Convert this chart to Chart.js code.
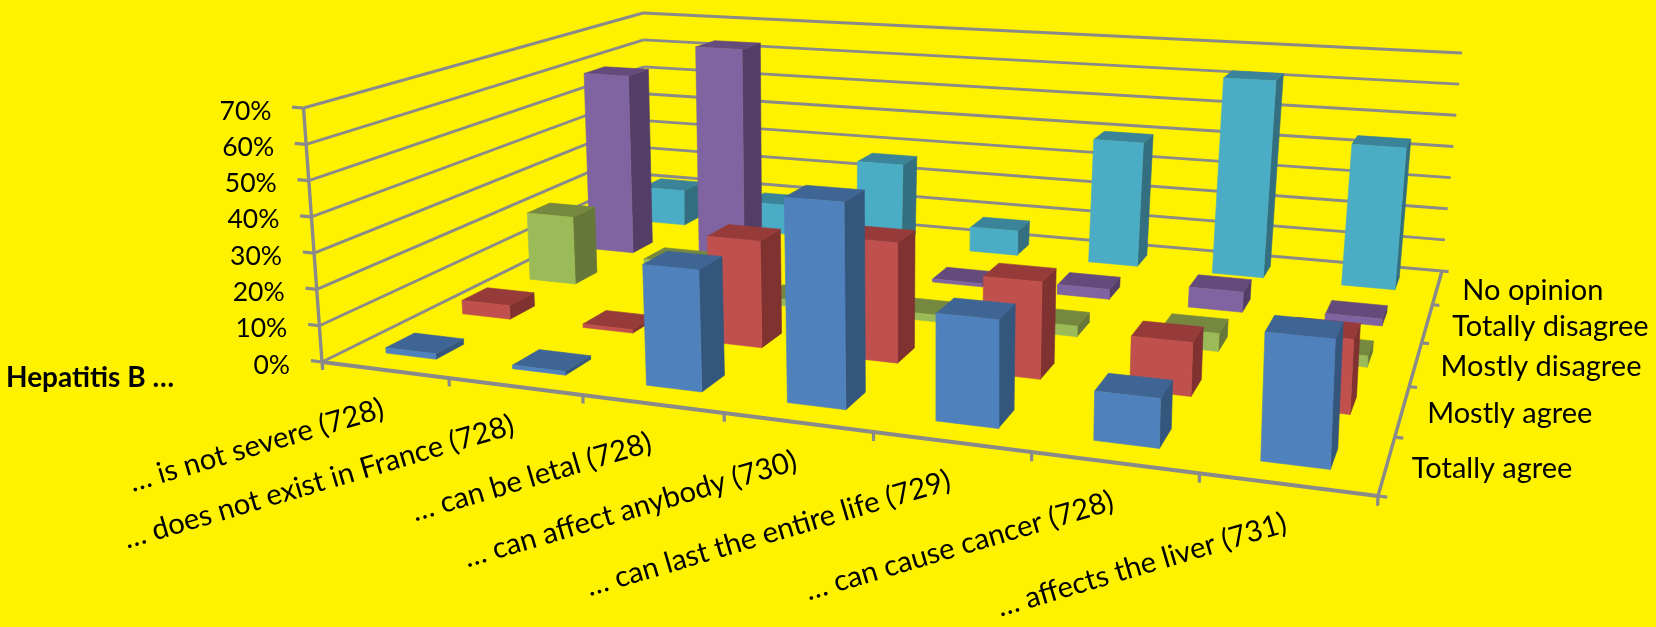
<!DOCTYPE html>
<html>
<head>
<meta charset="utf-8">
<title>Hepatitis B</title>
<script src="https://cdn.jsdelivr.net/npm/chart.js@4/dist/chart.umd.min.js"></script>
<style>
    html, body { margin: 0; padding: 0; background: #FFF200; overflow: hidden; }
    canvas { display: block; }
</style>
</head>
<body>
<canvas id="myChart" width="1656" height="627"></canvas>
<script>
const categories = [
    "… is not severe (728)",
    "… does not exist in France (728)",
    "… can be letal (728)",
    "… can affect anybody (730)",
    "… can last the entire life (729)",
    "… can cause cancer (728)",
    "… affects the liver (731)",
];
const seriesNames = ["Totally agree", "Mostly agree", "Mostly disagree", "Totally disagree", "No opinion"];
const valueTicks = [0, 10, 20, 30, 40, 50, 60, 70];

const totallyAgree = [1.5, 1, 32, 53, 27, 12, 30.5];
const mostlyAgree = [4, 1, 30, 33, 26, 14, 19];
const mostlyDisagree = [21, 10, 2, 2, 3, 5, 3];
const totallyDisagree = [59, 70, 5, 1, 3, 6, 2];
const noOpinion = [12, 10, 27, 8, 40, 62.5, 44];
const seriesValues = [totallyAgree, mostlyAgree, mostlyDisagree, totallyDisagree, noOpinion];

// front, side and top shade of each series
const shades = [
    ["#4F81BD", "#34557C", "#3E6593"],
    ["#C0504D", "#7F3230", "#963B39"],
    ["#9BBB59", "#67773A", "#76883F"],
    ["#8064A2", "#533E67", "#644B7C"],
    ["#4BACC6", "#336F80", "#3A8399"],
];
const background = "#FFF200";
const gridColor = "#8A8A8A";
const textFont = "Lato";

const maxValue = 70;
const boxDepth = seriesNames.length;
const boxWidth = categories.length;

// canvas corners of the box: front left, front right, back right, back left
const floorCorners = [[322, 362], [1378, 496], [1442, 271], [647, 201.4]];
const roofCorners = [[303.5, 108], [1390.6, 185.5], [1462, 53], [643, 13]];

// unit square to quad perspective map
function quadMap([[x0, y0], [x1, y1], [x2, y2], [x3, y3]]) {
    const dx1 = x1 - x2, dx2 = x3 - x2, sx = x0 - x1 + x2 - x3;
    const dy1 = y1 - y2, dy2 = y3 - y2, sy = y0 - y1 + y2 - y3;
    const den = dx1 * dy2 - dx2 * dy1;
    const g = (sx * dy2 - dx2 * sy) / den;
    const h = (dx1 * sy - sx * dy1) / den;
    const a = x1 - x0 + g * x1, b = x3 - x0 + h * x3;
    const d = y1 - y0 + g * y1, e = y3 - y0 + h * y3;
    return (u, v) => {
        const w = g * u + h * v + 1;
        return [(a * u + b * v + x0) / w, (d * u + e * v + y0) / w];
    };
}

const floorMap = quadMap(floorCorners);
const roofMap = quadMap(roofCorners);

function project(x, y, z) {
    const u = x / boxWidth;
    const v = y / boxDepth;
    const t = z / maxValue;
    const f = floorMap(u, v);
    const r = roofMap(u, v);
    return { x: f[0] + (r[0] - f[0]) * t, y: f[1] + (r[1] - f[1]) * t };
}

const datasets = [];

function addLine(from, to, width) {
    datasets.push({
        data: [project(...from), project(...to)],
        showLine: true,
        borderColor: gridColor,
        borderWidth: width,
        pointRadius: 0,
        fill: false,
    });
}

function addFace(corners, color) {
    const pts = corners.map((c) => project(...c));
    pts.push(pts[0]);
    datasets.push({
        data: pts,
        showLine: true,
        borderColor: color,
        borderWidth: 0.6,
        backgroundColor: color,
        pointRadius: 0,
        fill: "shape",
    });
}

// walls and floor edges
valueTicks.forEach((v) => {
    addLine([0, 0, v], [0, boxDepth, v], 2.9);
    addLine([0, boxDepth, v], [boxWidth, boxDepth, v], 2.9);
    addLine([-0.09, 0, v], [0, 0, v], 3.2);
});
addLine([0, 0, 0], [0, 0, maxValue], 3.4);
addLine([0, 0, 0], [boxWidth, 0, 0], 3.8);
addLine([boxWidth, 0, 0], [boxWidth, boxDepth, 0], 3.4);
for (let i = 0; i <= boxWidth; i++) addLine([i, 0, 0], [i, 0, -2.2], 3.2);
for (let j = 0; j <= boxDepth; j++) addLine([boxWidth, j, 0], [boxWidth + 0.05, j, 0], 3.2);

// bars, back row first and right to left inside a row
const halfWidth = 0.2;
const halfDepth = 0.18;
for (let j = seriesValues.length - 1; j >= 0; j--) {
    for (let i = categories.length - 1; i >= 0; i--) {
        const v = seriesValues[j][i];
        const x0 = i + 0.5 - halfWidth;
        const x1 = i + 0.5 + halfWidth;
        const y0 = j + 0.5 - halfDepth;
        const y1 = j + 0.5 + halfDepth;
        addFace([[x1, y0, 0], [x1, y1, 0], [x1, y1, v], [x1, y0, v]], shades[j][1]);
        addFace([[x0, y0, v], [x1, y0, v], [x1, y1, v], [x0, y1, v]], shades[j][2]);
        addFace([[x0, y0, 0], [x1, y0, 0], [x1, y0, v], [x0, y0, v]], shades[j][0]);
    }
}

// axis texts follow the projected box
const boxLabels = {
    id: "boxLabels",
    afterDatasetsDraw(chart) {
        const { ctx, scales } = chart;
        const px = (p) => ({ x: scales.x.getPixelForValue(p.x), y: scales.y.getPixelForValue(p.y) });
        ctx.save();
        ctx.fillStyle = "#000";

        ctx.font = `26.5px ${textFont}`;
        ctx.textAlign = "right";
        ctx.textBaseline = "middle";
        valueTicks.forEach((v) => {
            const p = px(project(0, 0, v));
            ctx.fillText(`${v}%`, p.x - 32, p.y + 3);
        });

        ctx.font = `29px ${textFont}`;
        ctx.textAlign = "left";
        seriesNames.forEach((name, j) => {
            const p = px(project(boxWidth, j + 0.5, 0));
            ctx.fillText(name, p.x + 25, p.y + 3);
        });

        ctx.font = `29.2px ${textFont}`;
        ctx.textAlign = "right";
        ctx.textBaseline = "alphabetic";
        categories.forEach((name, i) => {
            const p = px(project(i + 0.5, 0, 0));
            ctx.save();
            ctx.translate(p.x + 1, p.y + 47);
            ctx.rotate((-16.5 * Math.PI) / 180);
            ctx.fillText(name, 0, 0);
            ctx.restore();
        });

        ctx.font = `bold 28px ${textFont}`;
        ctx.textAlign = "left";
        ctx.textBaseline = "middle";
        ctx.fillText("Hepatitis B …", 6, 378);
        ctx.restore();
    },
};

const pageFill = {
    id: "pageFill",
    beforeDraw(chart) {
        chart.ctx.save();
        chart.ctx.fillStyle = background;
        chart.ctx.fillRect(0, 0, chart.width, chart.height);
        chart.ctx.restore();
    },
};

// the first dataset ends up on top in Chart.js, so hand them over reversed
new Chart(document.getElementById("myChart").getContext("2d"), {
    type: "scatter",
    data: { datasets: datasets.reverse() },
    options: {
        responsive: false,
        animation: false,
        layout: { padding: 0 },
        plugins: { legend: { display: false }, tooltip: { enabled: false } },
        scales: {
            x: { type: "linear", display: false, min: 0, max: 1656 },
            y: { type: "linear", display: false, min: 0, max: 627, reverse: true },
        },
    },
    plugins: [pageFill, boxLabels],
});
</script>
</body>
</html>
